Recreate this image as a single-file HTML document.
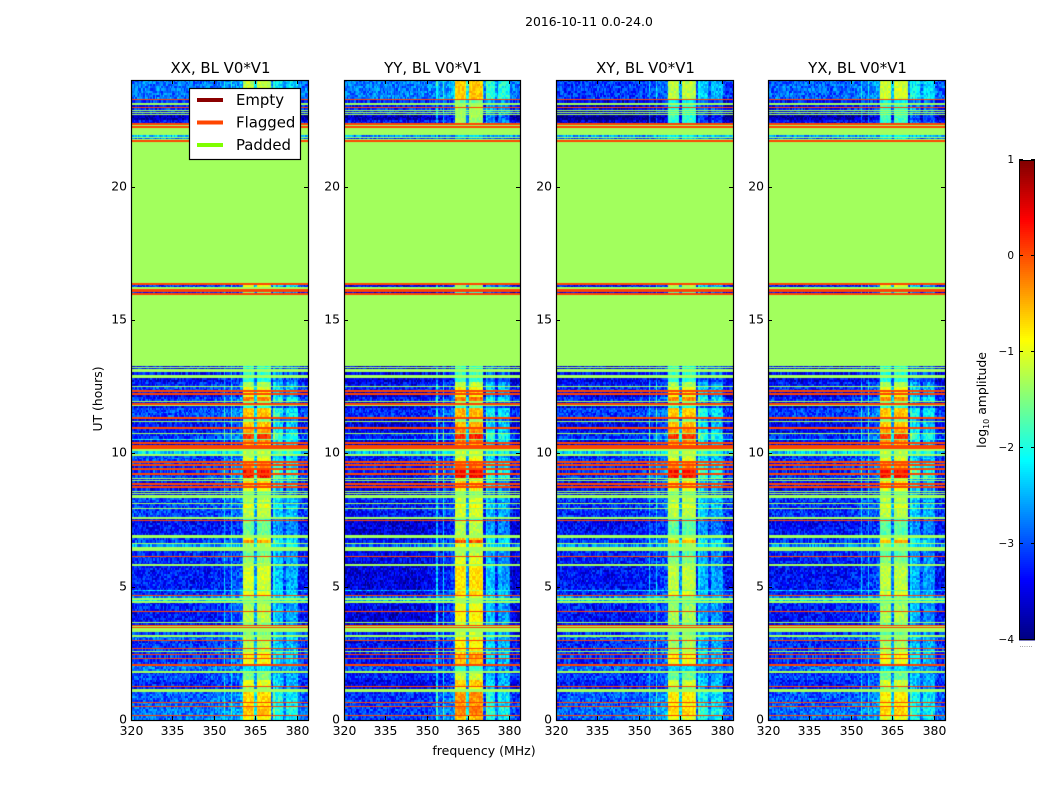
<!DOCTYPE html>
<html>
<head>
<meta charset="utf-8">
<title>2016-10-11 0.0-24.0</title>
<style>
html,body{margin:0;padding:0;background:#fff;}
#figure{position:relative;width:1050px;height:800px;overflow:hidden;background:#fff;font-family:"DejaVu Sans","Liberation Sans",sans-serif;}
canvas{position:absolute;top:80px;height:640px;}
svg{position:absolute;left:0;top:0;}
text{font-family:"DejaVu Sans","Liberation Sans",sans-serif;fill:#000;}
</style>
</head>
<body>
<div id="figure">
<canvas id="c0"></canvas>
<canvas id="c1"></canvas>
<canvas id="c2"></canvas>
<canvas id="c3"></canvas>
<svg id="overlay" width="1050" height="800">
<text x="589" y="26" text-anchor="middle" font-size="12.4">2016-10-11 0.0-24.0</text>
<text x="484" y="755" text-anchor="middle" font-size="12.5">frequency (MHz)</text>
<text transform="translate(102,399) rotate(-90)" text-anchor="middle" font-size="12.4">UT (hours)</text>
<text transform="translate(986,400) rotate(-90)" text-anchor="middle" font-size="12.4">log<tspan font-size="8" dy="3">10</tspan><tspan dy="-3"> amplitude</tspan></text>
<text x="1026" y="647" text-anchor="middle" font-size="7" style="fill:#777">......</text>
</svg>
</div>
<script>
const F = 0.04;   // flagged level
const P = -1.33;  // padded level

const panelNames = ["XX, BL V0*V1", "YY, BL V0*V1", "XY, BL V0*V1", "YX, BL V0*V1"];
const xTicks = [320, 335, 350, 365, 380];
const yTicks = [0, 5, 10, 15, 20];
const colorTicks = [1, 0, -1, -2, -3, -4];
const legendLabels = ["Empty", "Flagged", "Padded"];
const legendColors = ["#8b0000", "#ff4500", "#7fff00"];

// Upper edge (UT hours) of each time band, listed from the top of the plot down
const bandHours = [
24.00,23.29,23.25,23.15,23.06,22.99,22.95,22.88,22.84,22.79,
22.75,22.73,22.69,22.50,22.38,22.31,22.28,22.24,21.93,21.88,
21.84,21.79,21.75,21.71,16.39,16.35,16.23,16.18,16.05,16.01,
15.98,13.28,13.22,13.19,13.15,13.05,12.94,12.83,12.69,12.53,
12.48,12.36,12.33,12.27,12.19,12.10,11.97,11.94,11.87,11.82,
11.78,11.71,11.35,11.28,11.20,11.17,11.00,10.90,10.76,10.73,
10.55,10.51,10.43,10.38,10.30,10.15,10.10,9.99,9.90,9.83,
9.71,9.66,9.59,9.54,9.44,9.38,9.27,9.23,9.09,9.04,
8.99,8.96,8.90,8.85,8.78,8.70,8.60,8.55,8.52,8.48,
8.44,8.31,8.18,8.15,8.11,7.96,7.92,7.62,7.55,7.49,
7.45,7.39,6.94,6.83,6.75,6.65,6.61,6.50,6.34,6.16,
6.14,5.90,5.85,5.79,4.88,4.85,4.68,4.65,4.56,4.50,
4.47,4.39,4.35,4.09,4.05,3.68,3.63,3.57,3.54,3.47,
3.44,3.30,3.20,3.12,3.00,2.96,2.90,2.71,2.66,2.59,
2.55,2.46,2.42,2.31,2.27,2.10,2.04,1.84,1.77,1.73,
1.50,1.27,1.22,1.18,1.05,0.69,0.66,0.54,0.50,0.18,
0.15];

// log10 amplitude away from the bright RFI channels, per band
const bandBase = [
-2.8,F,-3.2,P,-3.3,F,-3.2,P,-3.3,P,
-3.3,P,-3.7,-3.3,F,P,F,P,-2.4,P,
-2.8,P,F,P,F,-3.1,P,F,-3.2,F,
P,-3.2,P,-3.2,P,-3.2,P,-3.3,-3.1,P,
-3,F,-3.3,F,-3.3,-3,P,-3.3,F,P,
-3.3,-2.9,F,-3.3,P,-3.2,F,-3.2,P,-3,
-2,-3.3,F,-3.3,F,P,-2.2,P,-3,-2.9,
F,-3,F,-3,F,-3,F,-3,P,-3.2,
P,-3.2,F,-3.2,F,-3.2,P,-3.2,P,-3.2,
P,-2.9,-3.2,P,-3,P,-3,P,-3.3,F,
-3.3,-3.2,P,-3,-3,P,-2.6,P,-3.1,F,
-3.1,-3.3,P,-3.2,-2.2,-3.1,F,-2.6,P,-2.2,
P,-3.1,-3.1,F,-3.2,P,-3.2,F,P,F,
P,-3,P,-2.8,F,-3.1,-3,F,-3,P,
-3,F,-3,F,-3,F,-2.7,P,-3.2,-2.9,
-3.1,F,-3.2,P,-2.8,F,-2.8,F,-2.7,F,
-2.7];

// log10 amplitude in the brightest RFI channels, per band
const bandPeak = [
-1.2,F,-2.2,P,-1.9,F,-1.9,P,-1.9,P,
-1.9,P,-1.9,-2,F,P,F,P,-2,P,
-2.2,P,F,P,F,-1,P,F,-1.5,F,
P,-2,P,-2,P,-1.9,P,-2,-1.3,P,
-1,F,-0.8,F,-1,-0.3,P,-1.5,F,P,
-2,-0.6,F,-1.5,P,-0.6,F,-0.4,P,0.1,
-1.5,-0.3,F,-0.6,F,P,-1.2,P,-1.2,-1,
F,-0.3,F,-0.3,F,0.3,F,0.3,P,-1,
P,-0.8,F,-0.5,F,-1,P,-1.6,P,-1.6,
P,-1.2,-1.5,P,-1,P,-1.2,P,-2,F,
-1.5,-1.6,P,-1,-0.4,P,-1.3,P,-1.6,F,
-1.4,-1.2,P,-1.1,-1.5,-1,F,-1.4,P,-1.6,
P,-1.5,-1.3,F,-1.2,P,-1.5,F,P,F,
P,-1.5,P,-1.3,F,-1.3,-1.2,F,-1.2,P,
-1,F,-0.8,F,-0.9,F,-2.2,P,-1.6,-1.5,
-1,F,-1.4,P,-0.7,F,-0.8,F,-0.6,F,
-0.9];

// Brightness of each of the 128 0.5 MHz channels, 320-384 MHz
const channelWeight = [
0,0,0,0,0,0,0,0,0,0,0,0,0,0,0,0,
0,0,0,0,0,0,0,0,0,0,0,0,0,0,0,0,
0,0,0,0,0,0,0,0,0,0,0,0,0,0,0,0,
0,0,0,0,0,0,0,0,0,0,.02,.02,.02,.03,.03,.03,
.03,.03,.04,.42,.06,.06,.05,.05,.45,.1,.1,.1,.12,.12,.14,.16,
.2,1,1,1,1,1,1,1,.95,.32,.3,1,1,1,1,1,
1,1,1,1,.95,.05,.05,.55,.4,.4,.42,.4,.38,.38,.1,.1,
.34,.36,.36,.34,.34,.32,.34,.34,.3,0,0,0,0,0,0,0];

// Panel adjustments per UT block: blocks start at these hours
const blockHours = [0, 7.5, 13.3, 22.4];
const panelBaseShift = [[-0.1,-0.1,0,0],[-0.35,-0.3,-0.3,0],[-0.15,-0.2,-0.2,-0.3],[-0.15,-0.2,-0.2,-0.1]];
const panelPeakShift = [[0,0,0,0],[0.35,0.1,-0.4,0.6],[-0.1,0,-0.2,0],[-0.1,0,-0.1,0.1]];
const flaggedMinPx = [1, 2, 2, 1];

// Hand-typed speckle table for cell-to-cell texture in log10 units
const speckle = [0.22,-0.31,0.05,0.41,-0.12,-0.38,0.28,-0.04,0.14,-0.25,0.36,-0.18,0.09,-0.42,0.31,0.02,-0.28,0.19,-0.09,0.44,-0.34,0.12,-0.02,0.26,-0.21,0.38,-0.15,0.07,-0.36,0.17,0.33,-0.07,-0.24,0.24,-0.44,0.11,0];

const axesLeft = [131, 344, 556, 768];
const axesWidth = [177, 176, 177, 177];
const axesTop = 80, axesHeight = 640;
const freqMin = 320, freqMax = 384, hourMin = 0, hourMax = 24;
const channelCount = channelWeight.length;
const rowHours = 0.075;
const cbarX = 1019, cbarW = 16, cbarTop = 160, cbarH = 480, valMin = -4, valMax = 1;

function xScale(p, mhz) { return (mhz - freqMin) / (freqMax - freqMin) * axesWidth[p]; }
function yScale(h) { return (hourMax - h) / (hourMax - hourMin) * axesHeight; }
function cbarScale(v) { return cbarTop + (valMax - v) / (valMax - valMin) * cbarH; }
function clip(x) { return Math.max(0, Math.min(1, x)); }
function jet(v) {
  const t = clip((v - valMin) / (valMax - valMin));
  const r = clip(Math.min(4 * t - 1.5, -4 * t + 4.5));
  const g = clip(Math.min(4 * t - 0.5, -4 * t + 3.5));
  const b = clip(Math.min(4 * t + 0.5, -4 * t + 2.5));
  return "rgb(" + Math.round(r * 255) + "," + Math.round(g * 255) + "," + Math.round(b * 255) + ")";
}
function blockOf(h) {
  let k = 0;
  for (let i = 0; i < blockHours.length; i++) if (h >= blockHours[i]) k = i;
  return k;
}
function speckleAt(c, r, p) {
  const h = (Math.imul(c + 1, 73856093) ^ Math.imul(r + 1, 19349663) ^ Math.imul(p + 1, 83492791)) >>> 0;
  return speckle[(h >>> 7) % speckle.length];
}

function drawPanel(p) {
  const cv = document.getElementById("c" + p);
  cv.width = axesWidth[p];
  cv.height = axesHeight;
  cv.style.left = axesLeft[p] + "px";
  cv.style.width = axesWidth[p] + "px";
  const ctx = cv.getContext("2d");
  let rowIndex = 0;
  for (let b = 0; b < bandHours.length; b++) {
    const top = bandHours[b];
    const bottom = b + 1 < bandHours.length ? bandHours[b + 1] : hourMin;
    const y0 = Math.round(yScale(top));
    const y1 = Math.max(y0 + 1, Math.round(yScale(bottom)));
    if (bandBase[b] === bandPeak[b]) {
      ctx.fillStyle = jet(bandBase[b]);
      ctx.fillRect(0, y0, axesWidth[p], y1 - y0);
      continue;
    }
    const blk = blockOf(top);
    const base = bandBase[b] + panelBaseShift[p][blk];
    const peak = bandPeak[b] + panelPeakShift[p][blk];
    const nRows = Math.max(1, Math.round((top - bottom) / rowHours));
    for (let r = 0; r < nRows; r++) {
      rowIndex++;
      const ry0 = Math.round(yScale(top - (top - bottom) * r / nRows));
      const ry1 = Math.max(ry0 + 1, Math.round(yScale(top - (top - bottom) * (r + 1) / nRows)));
      for (let c = 0; c < channelCount; c++) {
        const f0 = freqMin + c * (freqMax - freqMin) / channelCount;
        const f1 = freqMin + (c + 1) * (freqMax - freqMin) / channelCount;
        const x0 = Math.round(xScale(p, f0));
        const x1 = Math.round(xScale(p, f1));
        const w = channelWeight[c];
        const value = base + w * (peak - base) + speckleAt(c, rowIndex, p) * (1 - 0.5 * w);
        ctx.fillStyle = jet(value);
        ctx.fillRect(x0, ry0, x1 - x0, ry1 - ry0);
      }
    }
  }
  // Flagged bands are redrawn last so thin ones keep their visible width
  ctx.fillStyle = jet(F);
  for (let b = 0; b < bandHours.length; b++) {
    if (bandBase[b] !== F) continue;
    const bottom = b + 1 < bandHours.length ? bandHours[b + 1] : hourMin;
    const y0 = Math.round(yScale(bandHours[b]));
    const y1 = Math.round(yScale(bottom));
    ctx.fillRect(0, y0, axesWidth[p], Math.max(flaggedMinPx[blockOf(bandHours[b])], y1 - y0));
  }
}

const NS = "http://www.w3.org/2000/svg";
const svg = document.getElementById("overlay");
function make(tag, attrs) {
  const el = document.createElementNS(NS, tag);
  for (const k in attrs) el.setAttribute(k, attrs[k]);
  svg.appendChild(el);
  return el;
}

function drawAxes(p) {
  const L = axesLeft[p], W = axesWidth[p];
  const frame = make("rect", {x: L + 0.5, y: axesTop + 0.5, width: W, height: axesHeight, fill: "none", stroke: "#000", "stroke-width": 1.2});
  
  
  const title = make("text", {x: L + W / 2 + 1, y: 73, "text-anchor": "middle", "font-size": 14.9});
  title.textContent = panelNames[p];
  
  
  xTicks.forEach(function (t) {
    const x = Math.round(L + xScale(p, t)) + 0.5;
    const d = "M" + x + " " + (axesTop + axesHeight) + "v-4M" + x + " " + axesTop + "v4";
    const tick = make("path", {d: d, stroke: "#000", "stroke-width": 1, fill: "none"});
    
    
    const label = make("text", {x: x, y: 735, "text-anchor": "middle", "font-size": 12.4});
    label.textContent = t;
    
    
  });
  yTicks.forEach(function (t) {
    const y = Math.round(axesTop + yScale(t)) + 0.5;
    const d = "M" + L + " " + y + "h4M" + (L + W) + " " + y + "h-4";
    const tick = make("path", {d: d, stroke: "#000", "stroke-width": 1, fill: "none"});
    
    
    const label = make("text", {x: L - 4, y: y + 3, "text-anchor": "end", "font-size": 12.4});
    label.textContent = t;
    
    
  });
}

function drawLegend() {
  const box = make("rect", {x: 189.5, y: 88.5, width: 111, height: 71, fill: "#fff", stroke: "#000", "stroke-width": 1.2});
  
  
  const rowY = [100, 122.5, 145];
  legendLabels.forEach(function (lab, i) {
    const line = make("line", {x1: 197, x2: 223, y1: rowY[i], y2: rowY[i], stroke: legendColors[i], "stroke-width": 4});
    
    
    const text = make("text", {x: 236, y: rowY[i] + 5, "font-size": 14.9});
    text.textContent = lab;
    
    
  });
}

function drawColorbar() {
  const steps = 240;
  for (let i = 0; i < steps; i++) {
    const v0 = valMax - (valMax - valMin) * i / steps;
    const v1 = valMax - (valMax - valMin) * (i + 1) / steps;
    const seg = make("rect", {x: cbarX, y: cbarScale(v0), width: cbarW, height: cbarScale(v1) - cbarScale(v0) + 0.5, fill: jet((v0 + v1) / 2)});
    
    
  }
  const frame = make("rect", {x: cbarX + 0.5, y: cbarTop + 0.5, width: cbarW - 1, height: cbarH - 1, fill: "none", stroke: "#000", "stroke-width": 1});
  
  
  colorTicks.forEach(function (t) {
    const y = Math.round(cbarScale(t)) - 0.5;
    const d = "M" + cbarX + " " + y + "h4M" + (cbarX + cbarW) + " " + y + "h-4";
    const tick = make("path", {d: d, stroke: "#000", "stroke-width": 1, fill: "none"});
    
    
    const label = make("text", {x: 1014, y: y + 3.5, "text-anchor": "end", "font-size": 10.5});
    label.textContent = String(t).replace("-", "\u2212");
    
    
  });
}

for (let p = 0; p < 4; p++) {
  drawPanel(p);
  drawAxes(p);
}
drawLegend();
drawColorbar();
</script>
</body>
</html>
